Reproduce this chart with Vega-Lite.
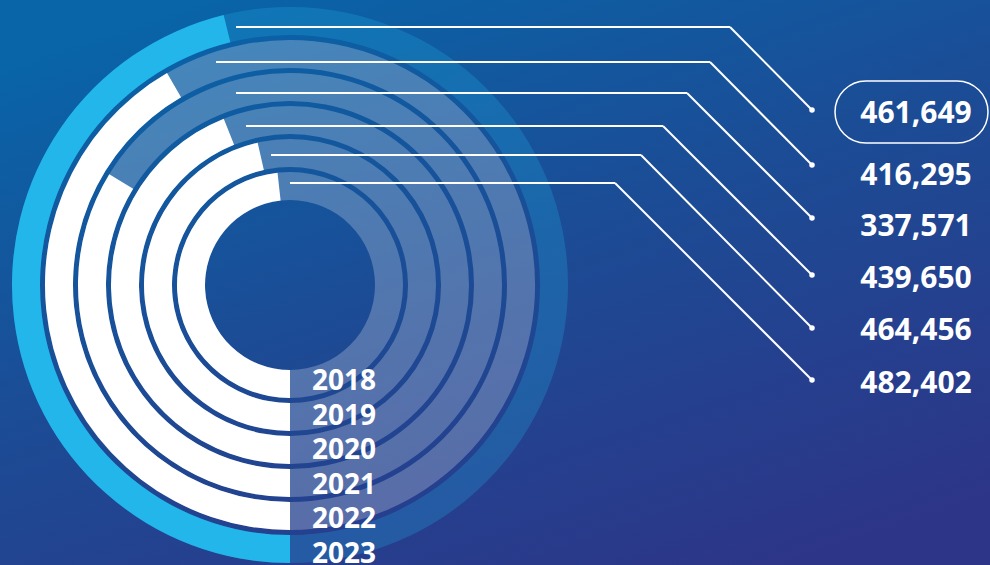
{
  "$schema": "https://vega.github.io/schema/vega-lite/v6.json",
  "width": 990,
  "height": 565,
  "autosize": "none",
  "padding": 0,
  "background": "#1d4894",
  "config": {
    "view": {
      "stroke": null,
      "fill": {
        "gradient": "linear",
        "x1": 0.2, "y1": 0, "x2": 0.8, "y2": 1,
        "stops": [
          {"offset": 0, "color": "#0964a8"},
          {"offset": 0.5, "color": "#1d4a94"},
          {"offset": 1, "color": "#2d3588"}
        ]
      }
    },
    "text": {"font": "Open Sans", "fontWeight": "bold", "fill": "white"}
  },
  "data": {
    "values": [
      {"year": 2018, "value": 482402},
      {"year": 2019, "value": 464456},
      {"year": 2020, "value": 439650},
      {"year": 2021, "value": 337571},
      {"year": 2022, "value": 416295},
      {"year": 2023, "value": 461649}
    ]
  },
  "layer": [
    {
      "mark": {"type": "arc", "opacity": 0.24, "radiusOffset": 14, "radius2Offset": -14},
      "encoding": {
        "x": {"datum": 0, "type": "quantitative", "scale": {"domain": [-290, 700], "zero": false, "nice": false}, "axis": null},
        "y": {"datum": 0, "type": "quantitative", "scale": {"domain": [-280, 285], "zero": false, "nice": false}, "axis": null},
        "theta": {"datum": 0, "type": "quantitative", "scale": {"domain": [0, 500000], "range": [3.14159265, 6.28318531], "zero": false, "nice": false}},
        "theta2": {"datum": 1000000},
        "radius": {"field": "year", "type": "quantitative", "scale": {"type": "linear", "domain": [2018, 2023], "range": [99, 264], "zero": false, "nice": false}},
        "radius2": {"field": "year"},
        "color": {"field": "year", "type": "nominal", "scale": {"domain": [2018, 2019, 2020, 2021, 2022, 2023], "range": ["#ffffff", "#ffffff", "#ffffff", "#ffffff", "#ffffff", "#23b6ea"]}, "legend": null}
      }
    },
    {
      "mark": {"type": "arc", "radiusOffset": 14, "radius2Offset": -14},
      "encoding": {
        "x": {"datum": 0, "type": "quantitative", "scale": {"domain": [-290, 700], "zero": false, "nice": false}, "axis": null},
        "y": {"datum": 0, "type": "quantitative", "scale": {"domain": [-280, 285], "zero": false, "nice": false}, "axis": null},
        "theta": {"field": "value", "type": "quantitative", "stack": null},
        "theta2": {"datum": 0},
        "radius": {"field": "year", "type": "quantitative"},
        "radius2": {"field": "year"},
        "color": {"field": "year", "type": "nominal", "legend": null}
      }
    },
    {
      "mark": {"type": "rule", "color": "white", "strokeWidth": 2},
      "encoding": {
        "x": {"field": "year", "type": "quantitative", "axis": null, "scale": {"zero": false, "nice": false,
          "domain": [2018, 2019, 2020, 2021, 2022, 2023, 337571, 416295, 439650, 461649, 464456, 482402],
          "range": [290, 271, 246, 236, 216, 236, 687, 710, 663, 730, 641, 615]}},
        "x2": {"field": "value"},
        "y": {"field": "year", "type": "quantitative", "axis": null, "scale": {"zero": false, "nice": false,
          "domain": [2018, 2019, 2020, 2021, 2022, 2023],
          "range": [183, 155, 126, 93, 62, 27]}}
      }
    },
    {
      "mark": {"type": "rule", "color": "white", "strokeWidth": 2},
      "encoding": {
        "x": {"field": "year", "type": "quantitative", "axis": null, "scale": {"zero": false, "nice": false,
          "domain": [2018, 2019, 2020, 2021, 2022, 2023, 337571, 416295, 439650, 461649, 464456, 482402],
          "range": [615, 641, 663, 687, 710, 730, 812, 812, 812, 812, 812, 812]}},
        "x2": {"field": "value"},
        "y": {"field": "year", "type": "quantitative", "axis": null, "scale": {"zero": false, "nice": false,
          "domain": [2018, 2019, 2020, 2021, 2022, 2023, 337571, 416295, 439650, 461649, 464456, 482402],
          "range": [183, 155, 126, 93, 62, 27, 218, 165, 275, 110, 328, 380]}},
        "y2": {"field": "value"}
      }
    },
    {
      "mark": {"type": "circle", "color": "white", "opacity": 1, "size": 30},
      "encoding": {
        "x": {"field": "year", "type": "quantitative", "axis": null, "scale": {"zero": false, "nice": false, "domain": [2018, 2023], "range": [812, 812]}},
        "y": {"field": "year", "type": "quantitative", "axis": null, "scale": {"zero": false, "nice": false,
          "domain": [2018, 2019, 2020, 2021, 2022, 2023],
          "range": [380, 328, 275, 218, 165, 110]}}
      }
    },
    {
      "mark": {"type": "text", "fontSize": 30, "align": "center", "baseline": "alphabetic"},
      "encoding": {
        "x": {"field": "year", "type": "quantitative", "axis": null, "scale": {"zero": false, "nice": false, "domain": [2018, 2023], "range": [916, 916]}},
        "y": {"field": "year", "type": "quantitative", "axis": null, "scale": {"zero": false, "nice": false,
          "domain": [2018, 2019, 2020, 2021, 2022, 2023],
          "range": [393, 340, 288, 236, 185, 123]}},
        "text": {"field": "value", "type": "quantitative", "format": ","}
      }
    },
    {
      "transform": [{"filter": "datum.year == 2023"}],
      "mark": {"type": "rect", "fillOpacity": 0, "stroke": "white", "strokeWidth": 1.5, "cornerRadius": 31},
      "encoding": {
        "x": {"field": "year", "type": "quantitative", "axis": null, "scale": {"zero": false, "nice": false, "domain": [2023, 461649], "range": [835, 988]}},
        "x2": {"field": "value"},
        "y": {"field": "year", "type": "quantitative", "axis": null, "scale": {"zero": false, "nice": false, "domain": [2023, 461649], "range": [81, 143]}},
        "y2": {"field": "value"}
      }
    },
    {
      "mark": {"type": "text", "fontSize": 28, "align": "left", "baseline": "alphabetic"},
      "encoding": {
        "x": {"field": "year", "type": "quantitative", "axis": null, "scale": {"zero": false, "nice": false, "domain": [2018, 2023], "range": [312, 312]}},
        "y": {"field": "year", "type": "quantitative", "axis": null, "scale": {"zero": false, "nice": false, "domain": [2018, 2023], "range": [390, 563]}},
        "text": {"field": "year", "type": "nominal"}
      }
    }
  ],
  "resolve": {"scale": {"x": "independent", "y": "independent"}}
}
